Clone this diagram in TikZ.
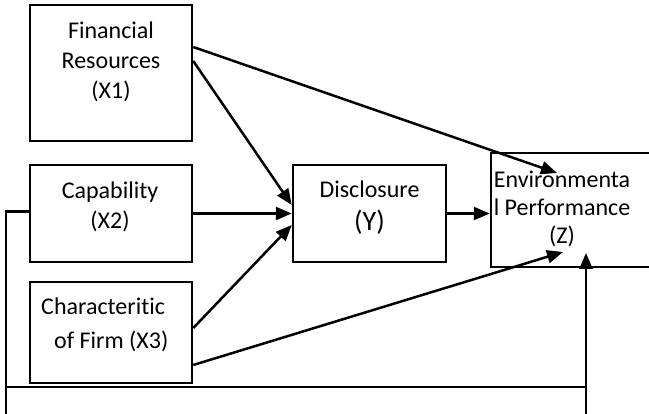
\documentclass[tikz,border=0pt]{standalone}
\usepackage{fontspec}
\setmainfont{Carlito}[Ligatures=NoCommon]
\usetikzlibrary{arrows.meta}
\begin{document}
\begin{tikzpicture}[x=1pt,y=-1pt,line width=2.5pt,
    box/.style={draw,line width=2.5pt,inner sep=0pt},
    lbl/.style={align=center,inner sep=0pt,font=\fontsize{24}{30}\selectfont},
    >={Triangle[length=16pt,width=13pt]}]
  \useasboundingbox (0,0) rectangle (649,414);
  \draw
    (111,73) node[box,minimum width=162pt,minimum height=136pt] (x1){}
    (111,213.5) node[box,minimum width=162pt,minimum height=97pt] (x2){}
    (111,332.5) node[box,minimum width=162pt,minimum height=101pt] (x3){}
    (369.5,213.5) node[box,minimum width=153pt,minimum height=97pt] (y){}
    (595.5,210) node[box,minimum width=209pt,minimum height=114pt] (z){};
  % texts
  \node[lbl] (x1txt) at (111,62) {Financial\\Resources\\(X1)};
  \node[lbl] (x2txt) at (110,207) {Capability\\(X2)};
  \node[lbl,align=left,anchor=west,font=\fontsize{24}{34}\selectfont] (x3txt) at (40,325)
    {Characteritic\\\hspace*{13pt}of Firm (X3)};
  \node[lbl,font=\fontsize{24}{33}\selectfont] (ytxt) at (369.5,208)
    {Disclosure\\\fontsize{28}{33}\selectfont(Y)};
  \node[lbl,font=\fontsize{24}{28}\selectfont] (ztxt) at (562,209)
    {Environmenta\\l Performance\\(Z)};
  % free ends
  \coordinate (ztop) at (557,173);
  \coordinate (zlow) at (563,252);
  \coordinate (zup) at (586,253);
  \coordinate (lowL) at (6,416);
  \coordinate (lowR) at (586,416);
  \coordinate (crossL) at (6,387);
  \coordinate (crossR) at (586,387);
  \begin{scope}[->]
    \draw ([yshift=26pt]x1.east) to (ztop);
    \draw ([yshift=12pt]x1.east) to ([yshift=8.5pt]y.west);
    \draw (x2.east) to (y.west);
    \draw ([yshift=4.5pt]x3.east) to ([yshift=-11.5pt]y.west);
    \draw ([yshift=-32.5pt]x3.east) to (zlow);
    \draw (y.east) to (z.west |- y.east);
    \draw (lowR) to (zup);
  \end{scope}
  \begin{scope}[-]
    \draw ([yshift=2pt]x2.west) -| (lowL);
    \draw (crossL) to (crossR);
  \end{scope}
\end{tikzpicture}
\end{document}
